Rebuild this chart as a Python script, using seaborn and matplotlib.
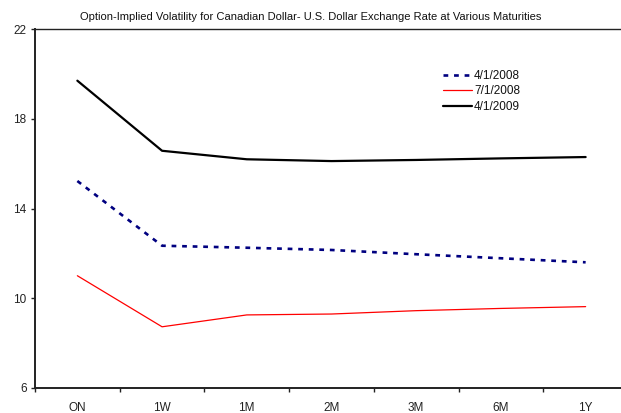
import numpy as np
import pandas as pd
import matplotlib
matplotlib.use('Agg')
import matplotlib.pyplot as plt
from matplotlib.ticker import FixedLocator, NullFormatter
import seaborn as sns

maturities = ["ON", "1W", "1M", "2M", "3M", "6M", "1Y"]
vol_apr2008 = [15.23, 12.34, 12.25, 12.15, 11.96, 11.78, 11.60]
vol_jul2008 = [11.00, 8.72, 9.25, 9.29, 9.44, 9.54, 9.62]
vol_apr2009 = [19.71, 16.58, 16.20, 16.12, 16.17, 16.24, 16.30]
dates = ["4/1/2008", "7/1/2008", "4/1/2009"]
y_ticks = [6, 10, 14, 18, 22]

sns.set_style("white")
plt.rcParams["font.family"] = ["Liberation Sans", "DejaVu Sans"]
plt.rcParams["text.color"] = "#111111"
plt.rcParams["xtick.color"] = "#222222"
plt.rcParams["ytick.color"] = "#222222"

df = pd.DataFrame({
    "maturity": maturities * 3,
    "vol": vol_apr2008 + vol_jul2008 + vol_apr2009,
    "date": np.repeat(dates, len(maturities)),
})

fig = plt.figure(figsize=(6.21, 4.13), dpi=100)
ax = fig.add_axes([35 / 621, 25.3 / 413, 593 / 621, 358.3 / 413])

styles = {
    "4/1/2008": dict(color="#000080", linewidth=1.9, dashes=(1.8, 2.2)),
    "7/1/2008": dict(color="#ff0000", linewidth=0.9),
    "4/1/2009": dict(color="black", linewidth=1.6),
}
for d in dates:
    sub = df[df["date"] == d]
    sns.lineplot(data=sub, x="maturity", y="vol", ax=ax, sort=False,
                 label=d, **styles[d])

ax.set_xlim(-0.5, 6.5)
ax.set_ylim(6, 22)
ax.set_yticks(y_ticks)
ax.xaxis.set_major_locator(FixedLocator(np.arange(-0.5, 7, 1)))
ax.xaxis.set_major_formatter(NullFormatter())
ax.xaxis.set_minor_locator(FixedLocator(np.arange(len(maturities))))
ax.set_xticklabels(maturities, minor=True)
ax.tick_params(axis="x", which="major", bottom=True, direction="out", length=3, width=1)
ax.tick_params(axis="x", which="minor", bottom=True, length=0, labelsize=8.5, pad=10)
ax.tick_params(axis="y", left=True, direction="out", length=3, width=1, labelsize=8.5, pad=3)
ax.set_xlabel("")
ax.set_ylabel("")

for s in ["left", "bottom", "top"]:
    ax.spines[s].set_color("#222222")
    ax.spines[s].set_linewidth(1.4)
ax.spines["top"].set_linewidth(1.0)
ax.spines["right"].set_visible(False)

fig.suptitle("Option-Implied Volatility for Canadian Dollar- U.S. Dollar Exchange Rate at Various Maturities",
             x=0.5, y=0.972, fontsize=8)

ax.legend(loc="upper left", bbox_to_anchor=(438 / 621, 1 - 65 / 413),
          bbox_transform=fig.transFigure, frameon=False, fontsize=8.5,
          handlelength=2.5, handletextpad=0.15, labelspacing=0.32, borderaxespad=0)

fig.savefig("out.png", dpi=100)
